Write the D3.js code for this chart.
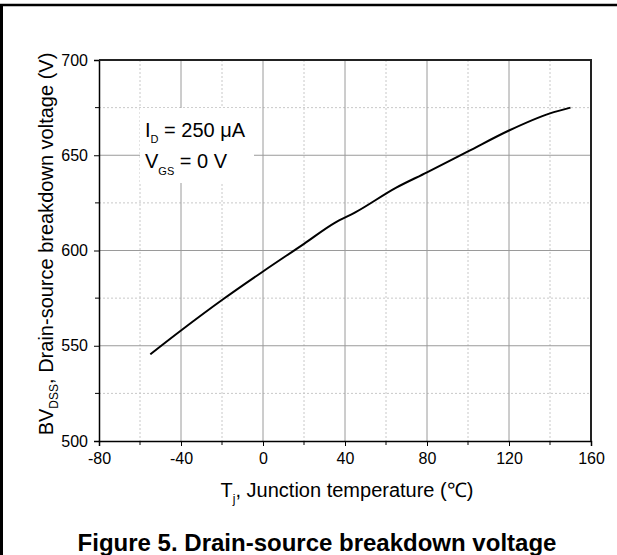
<!DOCTYPE html>
<html lang="en">
<head>
  <meta charset="utf-8">
  <title>Drain-source breakdown voltage</title>
  <script src="https://d3js.org/d3.v7.min.js"></script>
  <style type="text/css">
  body { margin: 0; background: #fff; }
  svg { display: block; font-family: "Liberation Sans", Arial, sans-serif; }
  .minor { stroke: #c8c8c8; stroke-dasharray: 2,2; stroke-width: 1; }
  .major { stroke: #9a9a9a; stroke-width: 1; }
  </style>
</head>
<body>
<div id="chart"></div>
<script type="text/javascript">

// values
var tempC = [-55, -40, -20, 0, 20, 35, 45, 65, 80, 100, 120, 140, 150];
var bvdss = [545.5, 558, 574, 589, 603.5, 614.5, 620, 633, 641, 652, 663, 672, 675];

var xTicks = [-80, -40, 0, 40, 80, 120, 160];
var xMinor = [-60, -20, 20, 60, 100, 140];
var yTicks = [500, 550, 600, 650, 700];
var yMinor = [525, 575, 625, 675];

var width = 617, height = 555;
var plotL = 99, plotR = 591, plotT = 60, plotB = 441;

var svg = d3.select("#chart").append("svg")
  .attr("width", width)
  .attr("height", height);

var x = d3.scaleLinear().domain([-80, 160]).range([plotL, plotR]);
var y = d3.scaleLinear().domain([500, 700]).range([plotB, plotT]);

// outer page frame (left + top only)
svg.append("line").attr("x1", 1.5).attr("x2", 1.5).attr("y1", 4).attr("y2", height)
  .attr("stroke", "#000").attr("stroke-width", 3);
svg.append("line").attr("x1", 0).attr("x2", width).attr("y1", 5).attr("y2", 5)
  .attr("stroke", "#000").attr("stroke-width", 2.5);

// grid
var grid = svg.append("g");
grid.selectAll(".vmin").data(xMinor).enter().append("line")
  .attr("class", "minor")
  .attr("x1", d => x(d)).attr("x2", d => x(d)).attr("y1", plotT).attr("y2", plotB);
grid.selectAll(".hmin").data(yMinor).enter().append("line")
  .attr("class", "minor")
  .attr("x1", plotL).attr("x2", plotR).attr("y1", d => y(d)).attr("y2", d => y(d));
grid.selectAll(".vmaj").data(xTicks.slice(1, -1)).enter().append("line")
  .attr("class", "major")
  .attr("x1", d => x(d)).attr("x2", d => x(d)).attr("y1", plotT).attr("y2", plotB);
grid.selectAll(".hmaj").data(yTicks.slice(1, -1)).enter().append("line")
  .attr("class", "major")
  .attr("x1", plotL).attr("x2", plotR).attr("y1", d => y(d)).attr("y2", d => y(d));

// white box behind annotation
svg.append("rect").attr("x", 140).attr("y", 108).attr("width", 114).attr("height", 75)
  .attr("fill", "#fff");

// axes (plain hyphen for negatives, like the reference)
var fmt = d => String(d);
var xAxis = svg.append("g").attr("transform", "translate(0," + plotB + ")")
  .call(d3.axisBottom(x).tickValues(xTicks).tickFormat(fmt).tickSize(5).tickPadding(7));
xAxis.append("g").selectAll("line").data(xMinor).enter().append("line")
  .attr("x1", d => x(d)).attr("x2", d => x(d)).attr("y1", 0).attr("y2", 4)
  .attr("stroke", "#000");
var yAxis = svg.append("g").attr("transform", "translate(" + plotL + ",0)")
  .call(d3.axisLeft(y).tickValues(yTicks).tickFormat(fmt).tickSize(5).tickPadding(6));
yAxis.append("g").selectAll("line").data(yMinor).enter().append("line")
  .attr("x1", 0).attr("x2", -4).attr("y1", d => y(d)).attr("y2", d => y(d))
  .attr("stroke", "#000");
svg.selectAll(".domain").attr("stroke", "#000").attr("stroke-width", 1.5);
svg.selectAll(".tick line").attr("stroke", "#000");
svg.selectAll(".tick text")
  .attr("font-size", 16)
  .attr("font-family", "Liberation Sans, Arial, sans-serif")
  .attr("fill", "#000");

// top + right frame
svg.append("path")
  .attr("d", "M" + plotL + "," + plotT + "H" + plotR + "V" + plotB)
  .attr("fill", "none").attr("stroke", "#222").attr("stroke-width", 2);

// curve
var line = d3.line().x((d, i) => x(tempC[i])).y(d => y(d)).curve(d3.curveMonotoneX);
svg.append("path").datum(bvdss)
  .attr("d", line)
  .attr("fill", "none").attr("stroke", "#000").attr("stroke-width", 2);

// annotation
var ann = svg.append("text").attr("x", 145).attr("y", 137).attr("font-size", 20);
ann.append("tspan").text("I");
ann.append("tspan").attr("font-size", 11).attr("dy", 6).text("D");
ann.append("tspan").attr("dy", -6).text(" = 250 \u03bcA");
var ann2 = svg.append("text").attr("x", 145).attr("y", 168).attr("font-size", 20);
ann2.append("tspan").text("V");
ann2.append("tspan").attr("font-size", 11).attr("dy", 7).text("GS");
ann2.append("tspan").attr("dy", -7).text(" = 0 V");

// axis titles
var xt = svg.append("text").attr("x", 347).attr("y", 497)
  .attr("text-anchor", "middle").attr("font-size", 20);
xt.append("tspan").text("T");
xt.append("tspan").attr("font-size", 12).attr("dy", 6).text("j");
xt.append("tspan").attr("dy", -6).text(", Junction temperature (\u2103)");

var yt = svg.append("text")
  .attr("transform", "translate(53,244) rotate(-90)")
  .attr("text-anchor", "middle").attr("font-size", 20);
yt.append("tspan").text("BV");
yt.append("tspan").attr("font-size", 12).attr("dy", 5).text("DSS");
yt.append("tspan").attr("dy", -5).text(", Drain-source breakdown voltage (V)");

// figure caption (cut by page bottom)
svg.append("text").attr("x", 317).attr("y", 551)
  .attr("text-anchor", "middle").attr("font-size", 24).attr("font-weight", "bold")
  .text("Figure 5. Drain-source breakdown voltage");

</script>
</body>
</html>
